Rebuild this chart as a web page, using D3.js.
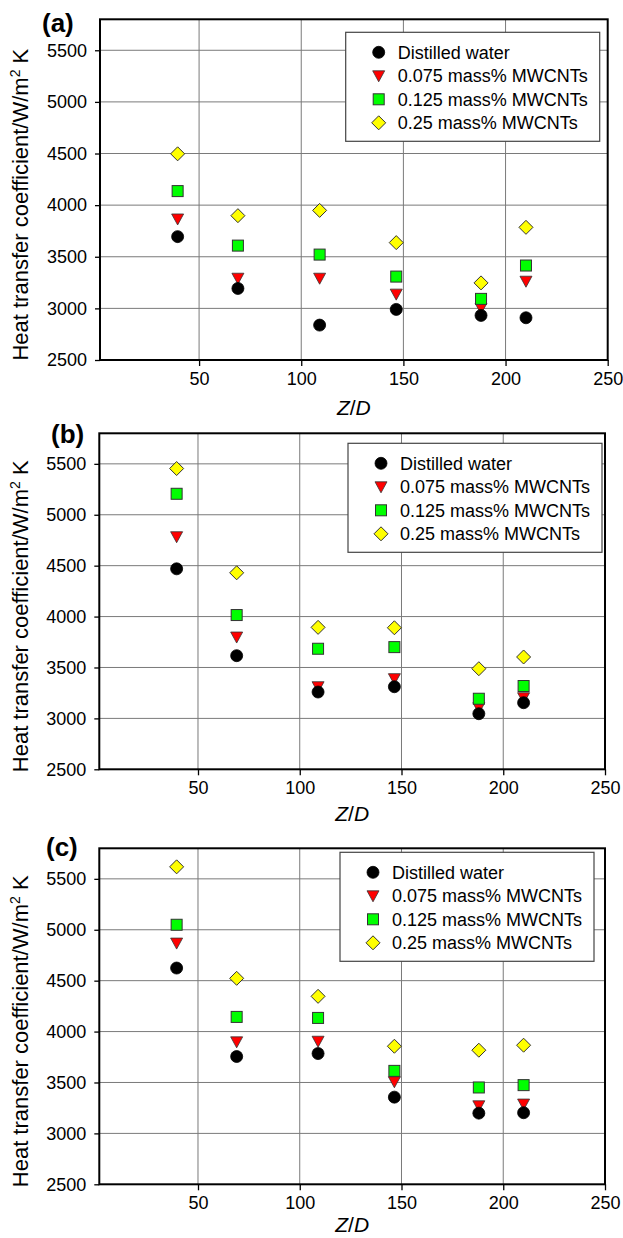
<!DOCTYPE html>
<html>
<head>
<meta charset="utf-8">
<script src="https://cdn.jsdelivr.net/npm/d3@7"></script>
<style>
  html, body { margin: 0; padding: 0; background: #fff; }
  svg { display: block; }
  text { font-family: "Liberation Sans", Arial, Helvetica, sans-serif; fill: #000; }
</style>
</head>
<body>
<svg id="chart" width="623" height="1238"></svg>
<script>
// Axial position along the tube (Z/D)
const zOverD = [39.5, 69, 109, 146.5, 188, 210];

// Tick values
const xTicks = [50, 100, 150, 200, 250];
const yTicks = [2500, 3000, 3500, 4000, 4500, 5000, 5500];

// Series names
const seriesNames = ["Distilled water", "0.075 mass% MWCNTs", "0.125 mass% MWCNTs", "0.25 mass% MWCNTs"];

// Panel (a) heat transfer coefficients, W/m2 K
const waterA  = [3695, 3193, 2838, 2990, 2932, 2909];
const cnt075A = [3866, 3292, 3292, 3138, 3003, 3263];
const cnt125A = [4136, 3608, 3521, 3308, 3092, 3415];
const cnt250A = [4497, 3898, 3949, 3637, 3247, 3785];

// Panel (b)
const waterB  = [4469, 3616, 3259, 3311, 3046, 3154];
const cnt075B = [4784, 3799, 3311, 3390, 3105, 3203];
const cnt125B = [5206, 4015, 3684, 3700, 3193, 3318];
const cnt250B = [5454, 4430, 3894, 3890, 3488, 3603];

// Panel (c)
const waterC  = [4624, 3755, 3784, 3356, 3199, 3203];
const cnt075C = [4869, 3899, 3905, 3507, 3271, 3288];
const cnt125C = [5049, 4144, 4134, 3614, 3451, 3474];
const cnt250C = [5618, 4523, 4346, 3856, 3817, 3866];

const panelTags = ["(a)", "(b)", "(c)"];
const panelSeries = [
  [waterA, cnt075A, cnt125A, cnt250A],
  [waterB, cnt075B, cnt125B, cnt250B],
  [waterC, cnt075C, cnt125C, cnt250C]
];

// Frame geometry for each panel
const frames = [
  { left: 100,  right: 607.7, top: 19.3,  bottom: 360,    tagX: 42, tagY: 32,  legX: 345.7, legY: 32.3,  titleGap: 55 },
  { left: 99.3, right: 605,   top: 433.3, bottom: 769.3,  tagX: 51, tagY: 443, legX: 348,   legY: 443.3, titleGap: 52 },
  { left: 99.3, right: 605,   top: 848.3, bottom: 1184.3, tagX: 46, tagY: 856, legX: 340,   legY: 852.3, titleGap: 48 }
];

// Marker styles: circle, down triangle, square, diamond
const styles = [
  { type: "circle",   fill: "#000000" },
  { type: "triangle", fill: "#ff0000" },
  { type: "square",   fill: "#00ff00" },
  { type: "diamond",  fill: "#ffff00" }
];
const drawOrder = [3, 1, 2, 0];

function marker(g, type, fill, cx, cy) {
  if (type === "circle") {
    g.append("circle").attr("cx", cx).attr("cy", cy).attr("r", 6)
      .attr("fill", fill).attr("stroke", "#000").attr("stroke-width", 0.8);
  } else if (type === "square") {
    g.append("rect").attr("x", cx - 5.5).attr("y", cy - 5.5).attr("width", 11).attr("height", 11)
      .attr("fill", fill).attr("stroke", "#333").attr("stroke-width", 1);
  } else if (type === "diamond") {
    g.append("path").attr("d", `M${cx},${cy - 7}L${cx + 7},${cy}L${cx},${cy + 7}L${cx - 7},${cy}Z`)
      .attr("fill", fill).attr("stroke", "#333").attr("stroke-width", 1);
  } else {
    g.append("path").attr("d", `M${cx - 6},${cy - 5}L${cx + 6},${cy - 5}L${cx},${cy + 6}Z`)
      .attr("fill", fill).attr("stroke", "#333").attr("stroke-width", 0.8);
  }
}

const svg = d3.select("#chart");

frames.forEach((f, p) => {
  const x = d3.scaleLinear().domain([1.5, 250]).range([f.left, f.right]);
  const y = d3.scaleLinear().domain([2500, 5800]).range([f.bottom, f.top]);
  const g = svg.append("g");

  // grid
  g.append("g").selectAll("line").data(xTicks.slice(0, -1)).join("line")
    .attr("x1", d => x(d)).attr("x2", d => x(d)).attr("y1", f.top).attr("y2", f.bottom)
    .attr("stroke", "#7a7a7a").attr("stroke-width", 1);
  g.append("g").selectAll("line").data(yTicks.slice(1)).join("line")
    .attr("x1", f.left).attr("x2", f.right).attr("y1", d => y(d)).attr("y2", d => y(d))
    .attr("stroke", "#7a7a7a").attr("stroke-width", 1);

  // axes
  const xAxis = d3.axisBottom(x).tickValues(xTicks).tickFormat(d3.format("d")).tickSize(6).tickPadding(6);
  const yAxis = d3.axisLeft(y).tickValues(yTicks).tickFormat(d3.format("d")).tickSize(5).tickPadding(8);
  const gx = g.append("g").attr("transform", `translate(0,${f.bottom})`).call(xAxis);
  const gy = g.append("g").attr("transform", `translate(${f.left},0)`).call(yAxis);
  [gx, gy].forEach(a => {
    a.select(".domain").remove();
    a.selectAll(".tick line").attr("stroke", "#000").attr("stroke-width", 1.3);
    a.selectAll(".tick text").attr("font-size", 18).attr("font-family", "Liberation Sans, Arial, sans-serif").attr("fill", "#000");
  });

  // frame
  g.append("rect").attr("x", f.left).attr("y", f.top)
    .attr("width", f.right - f.left).attr("height", f.bottom - f.top)
    .attr("fill", "none").attr("stroke", "#000").attr("stroke-width", 2);

  // axis titles
  const yt = g.append("text")
    .attr("transform", `translate(28,${(f.top + f.bottom) / 2 + 15}) rotate(-90)`)
    .attr("text-anchor", "middle").attr("font-size", 22);
  yt.append("tspan").text("Heat transfer coefficient/W/m");
  yt.append("tspan").attr("font-size", 14).attr("dy", -8).text("2");
  yt.append("tspan").attr("dy", 8).text(" K");

  const xt = g.append("text")
    .attr("x", (f.left + f.right) / 2).attr("y", f.bottom + f.titleGap)
    .attr("text-anchor", "middle").attr("font-size", 21);
  xt.append("tspan").attr("font-style", "italic").text("Z");
  xt.append("tspan").text("/");
  xt.append("tspan").attr("font-style", "italic").text("D");

  // panel tag
  g.append("text").attr("x", f.tagX).attr("y", f.tagY)
    .attr("font-size", 26).attr("font-weight", "bold").text(panelTags[p]);

  // markers
  const series = panelSeries[p];
  drawOrder.forEach(s => {
    series[s].forEach((v, i) => marker(g, styles[s].type, styles[s].fill, x(zOverD[i]), y(v)));
  });

  // legend
  const lg = g.append("g").attr("transform", `translate(${f.legX},${f.legY})`);
  lg.append("rect").attr("width", 254).attr("height", 109)
    .attr("fill", "#fff").attr("stroke", "#444").attr("stroke-width", 1.2);
  seriesNames.forEach((name, s) => {
    const ry = 20 + s * 23.5;
    marker(lg, styles[s].type, styles[s].fill, 33, ry);
    lg.append("text").attr("x", 52).attr("y", ry + 6.5).attr("font-size", 18).text(name);
  });
});
</script>
</body>
</html>
